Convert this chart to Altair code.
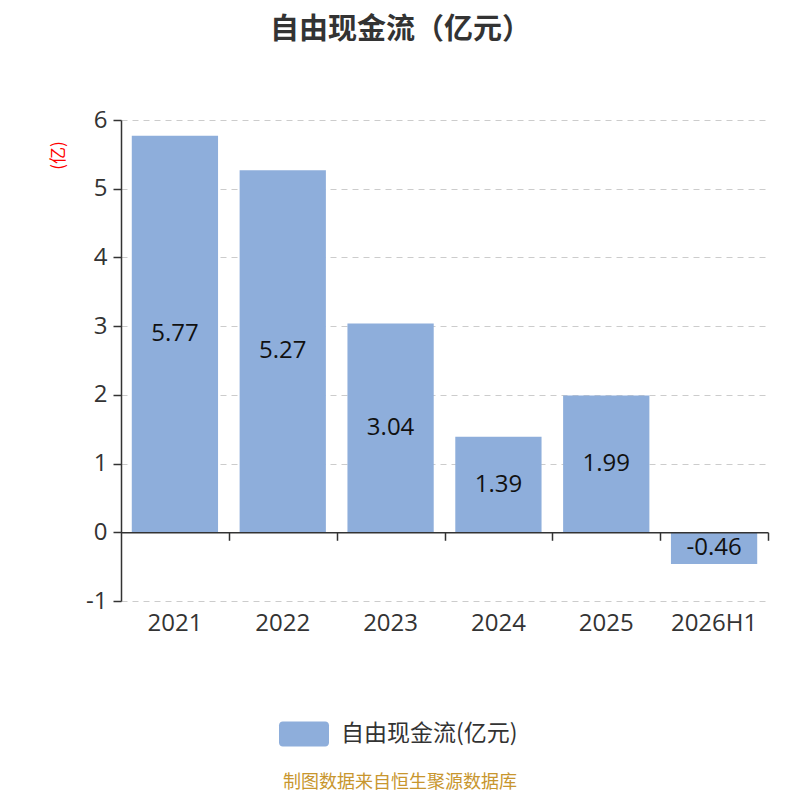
import altair as alt
import pandas as pd

years = ["2021", "2022", "2023", "2024", "2025", "2026H1"]
values = [5.77, 5.27, 3.04, 1.39, 1.99, -0.46]
series_name = "自由现金流(亿元)"
title_text = "自由现金流（亿元）"
unit_text = "(亿)"
footer_text = "制图数据来自恒生聚源数据库"
bar_color = "#8eaedb"

df = pd.DataFrame({"year": years, "value": values, "series": [series_name] * len(years)})

W, H = 647, 481
num_font = "Open Sans"
cjk_font = "Noto Sans CJK SC"
step = W / (len(years) - 0.2 + 0.2)

x_scale = alt.Scale(domain=years, paddingInner=0.2, paddingOuter=0.1)
y_scale = alt.Scale(domain=[-1, 6], nice=False, zero=False)

base = alt.Chart(df)

bars = base.mark_bar(color=bar_color).encode(
    x=alt.X("year:N", scale=x_scale, sort=years,
            axis=alt.Axis(title=None, domain=False, ticks=False, grid=False,
                          labelAngle=0, labelFont=num_font, labelFontSize=24,
                          labelColor="#333333", labelPadding=10)),
    y=alt.Y("value:Q", scale=y_scale,
            axis=alt.Axis(values=[-1, 0, 1, 2, 3, 4, 5, 6], title=unit_text,
                          labelExpr="datum.value + ''",
                          titleColor="#ff0000", titleFont=cjk_font, titleFontSize=17,
                          titleFontWeight="normal", titleAngle=270,
                          titleX=-63, titleY=35, titleAlign="center", titleBaseline="middle",
                          labelFont=num_font, labelFontSize=24, labelColor="#333333",
                          labelPadding=6,
                          domainColor="#333333", domainWidth=1.5,
                          tickColor="#333333", tickWidth=1.5, tickSize=8,
                          grid=True, gridColor="#cccccc", gridDash=[6, 5], gridWidth=1)),
    color=alt.Color("series:N", scale=alt.Scale(domain=[series_name], range=[bar_color]),
                    legend=alt.Legend(title=None, orient="none", legendX=158, legendY=589,
                                      symbolType="M-0.85,-0.5 H0.85 A0.15,0.15 0 0 1 1,-0.35 V0.35 A0.15,0.15 0 0 1 0.85,0.5 H-0.85 A0.15,0.15 0 0 1 -1,0.35 V-0.35 A0.15,0.15 0 0 1 -0.85,-0.5 Z",
                                      symbolSize=2500, symbolStrokeWidth=0,
                                      labelFont=cjk_font, labelFontSize=23, labelColor="#333333",
                                      labelOffset=12, labelLimit=400)),
)

labels = base.transform_calculate(
    mid="datum.value / 2",
    lab="replace(format(datum.value, '.2f'), '\u2212', '-')",
).mark_text(
    font=num_font, fontSize=24, color="#111111", baseline="middle", align="center"
).encode(
    x=alt.X("year:N", scale=x_scale, sort=years,
            axis=alt.Axis(title=None, labels=False, grid=False, orient="bottom",
                          offset=-H / 7, domainColor="#333333", domainWidth=1.5,
                          tickColor="#333333", tickWidth=1.5, tickSize=8,
                          tickOffset=step / 2, zindex=1)),
    y=alt.Y("mid:Q", scale=y_scale),
    text=alt.Text("lab:N"),
)

footer = alt.Chart(pd.DataFrame({"t": [footer_text]})).mark_text(
    font=cjk_font, fontSize=18, color="#c8962e", align="center", baseline="middle"
).encode(
    text="t:N",
    x=alt.value(279),
    y=alt.value(663),
)

chart = alt.layer(bars, labels, footer).resolve_axis(x="independent").properties(
    width=W, height=H,
    title=alt.TitleParams(title_text, font=cjk_font, fontSize=29, fontWeight="bold",
                          color="#333333", anchor="middle", dx=-44, offset=63),
    autosize=alt.AutoSizeParams(type="none"),
    padding={"left": 113, "top": 112, "right": 24, "bottom": 191},
).configure_view(stroke=None)

chart.save("out.html", embed_options={"renderer": "svg", "actions": False})
